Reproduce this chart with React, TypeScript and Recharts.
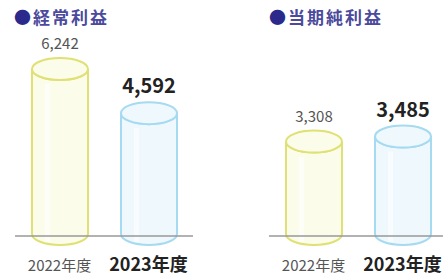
import React from "react";
import { BarChart, Bar, XAxis, YAxis, LabelList } from "recharts";

const years = ["2022年度", "2023年度"];
const ordinaryProfit = [6242, 4592];
const netProfit = [3308, 3485];
const titles = ["経常利益", "当期純利益"];

const FONT = '"Noto Sans CJK JP", "Noto Sans", sans-serif';
const STROKES = ["#dfe174", "#a6daf1"];
const FILLS = ["#fbfce9", "#eef8fd"];
const RY = 11;

function Cylinder(props: any) {
  const { x, y, width, height, index } = props;
  const rx = width / 2;
  const cx = x + rx;
  const bottom = y + height - 2;
  const stroke = STROKES[index];
  const fill = FILLS[index];
  const body = `M${x},${y} L${x},${bottom} A${rx},${RY} 0 0 0 ${x + width},${bottom} L${x + width},${y} A${rx},${RY} 0 0 1 ${x},${y} Z`;
  return (
    <g>
      <path d={body} fill={fill} stroke={stroke} strokeWidth={2} />
      <line x1={cx - rx * 0.45} y1={y + RY + 4} x2={cx - rx * 0.45} y2={bottom + RY - 3} stroke="#ffffff" strokeWidth={5} opacity={0.7} />
      <ellipse cx={cx} cy={y} rx={rx} ry={RY} fill={fill} stroke={stroke} strokeWidth={2} />
    </g>
  );
}

function ValueLabel(props: any) {
  const { x, y, width, value, index } = props;
  const bold = index === 1;
  return (
    <text
      x={x + width / 2}
      y={y - RY - 9}
      textAnchor="middle"
      fontFamily={FONT}
      fontSize={bold ? 20 : 15}
      fontWeight={bold ? 700 : 400}
      fill={bold ? "#222222" : "#555555"}
    >
      {Number(value).toLocaleString("en-US")}
    </text>
  );
}

function YearTick(props: any) {
  const { x, payload, index } = props;
  const bold = index === 1;
  return (
    <text
      x={x}
      y={271}
      textAnchor="middle"
      fontFamily={FONT}
      fontSize={bold ? 18 : 15}
      fontWeight={bold ? 700 : 400}
      fill={bold ? "#222222" : "#555555"}
    >
      {payload.value}
    </text>
  );
}

function Panel({ values, width, margin, max }: { values: number[]; width: number; margin: any; max: number }) {
  const data = years.map((year, i) => ({ year, value: values[i] }));
  return (
    <BarChart width={width} height={279} data={data} margin={margin} barSize={56}>
      <XAxis
        dataKey="year"
        axisLine={{ stroke: "#999999", strokeWidth: 1.5 }}
        tickLine={false}
        tick={<YearTick />}
        interval={0}
      />
      <YAxis hide domain={[0, max]} />
      <Bar dataKey="value" shape={<Cylinder />} isAnimationActive={false}>
        <LabelList dataKey="value" content={<ValueLabel />} />
      </Bar>
    </BarChart>
  );
}

function Title({ text, left }: { text: string; left: number }) {
  return (
    <div
      style={{
        position: "absolute",
        left,
        top: 4,
        fontFamily: FONT,
        fontSize: 17,
        fontWeight: 700,
        letterSpacing: 2,
        color: "#4b4a9c",
        whiteSpace: "nowrap",
      }}
    >
      <span style={{ color: "#2b2a8c" }}>●</span>
      {text}
    </div>
  );
}

export default function App() {
  return (
    <div
      style={{
        position: "absolute",
        left: 0,
        top: 0,
        width: 443,
        height: 279,
        overflow: "hidden",
        background: "#ffffff",
      }}
    >
      <div style={{ position: "absolute", left: 0, top: 0 }}>
        <Panel values={ordinaryProfit} max={8000} width={222} margin={{ top: 22, right: 29, left: 15, bottom: 13 }} />
      </div>
      <div style={{ position: "absolute", left: 222, top: 0 }}>
        <Panel values={netProfit} max={7500} width={226} margin={{ top: 22, right: 1, left: 47, bottom: 13 }} />
      </div>
      <Title text={titles[0]} left={14} />
      <Title text={titles[1]} left={269} />
    </div>
  );
}
